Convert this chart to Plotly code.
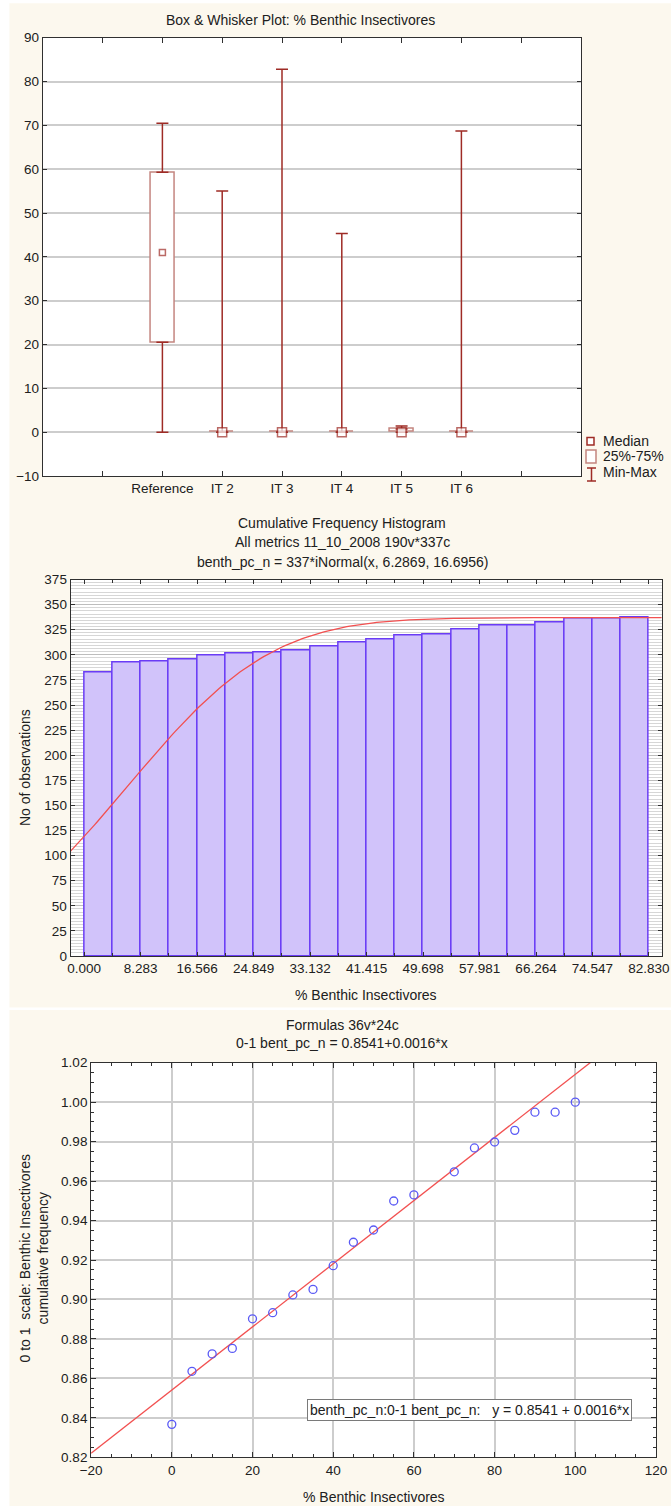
import math
import numpy as np
import plotly.graph_objects as go

W, H = 671, 1506
FONT = "Arial, Liberation Sans, sans-serif"
CREAM = "#FCF8EE"

# ---- Box & whisker data: % Benthic Insectivores by group ----
groups = ["Reference", "IT 2", "IT 3", "IT 4", "IT 5", "IT 6"]
g_min = [0, 0, 0, 0, 0, 0]
g_q1 = [20.5, 0, 0, 0, 0, 0]
g_median = [41.0, 0, 0, 0, 0, 0]
g_q3 = [59.3, 0, 0, 0, 0.7, 0]
g_max = [70.5, 55.0, 82.8, 45.3, 1.4, 68.7]

# ---- Cumulative frequency histogram ----
hist_counts = [282, 292, 293, 295, 299, 301, 302, 304, 308, 312,
               315, 319, 320, 325, 329, 329, 332, 336, 336, 337]
hist_xmax = 82.830
n_total, fit_mu, fit_sigma = 337, 6.2869, 16.6956

# ---- 0-1 scale cumulative frequency vs % Benthic Insectivores ----
pct_x = [0, 5, 10, 15, 20, 25, 30, 35, 40, 45, 50, 55, 60, 70, 75, 80, 85, 90, 95, 100]
cum_freq = [0.8367, 0.8636, 0.8724, 0.8752, 0.8902, 0.8933, 0.9023, 0.9051, 0.9171, 0.9290,
            0.9352, 0.9499, 0.9530, 0.9647, 0.9768, 0.9798, 0.9857, 0.9949, 0.9949, 1.0000]
reg_a, reg_b = 0.8541, 0.0016


def px(x):
    return x / W


def py(y):
    return 1 - y / H


WHISK = "#9E2B25"
BOXLINE = "#C4857F"
BAR_FILL = "#D1C3FA"
BAR_LINE = "#6A3CF5"
FIT_RED = "#F25050"
PT_BLUE = "#5A5AF5"

fig = go.Figure()

# ---------- panel 1: box & whisker ----------
pos = [i + 2 for i in range(len(groups))]
fig.add_trace(go.Bar(
    x=pos, base=g_q1, y=[b - a for a, b in zip(g_q1, g_q3)], width=0.4,
    marker=dict(color="white", line=dict(color=BOXLINE, width=1.5)),
    xaxis="x", yaxis="y", showlegend=False, hoverinfo="skip"))
# upper whiskers (Q3 -> max)
fig.add_trace(go.Scatter(
    x=pos, y=g_q3, mode="markers", marker=dict(size=1, color="rgba(0,0,0,0)"),
    error_y=dict(type="data", symmetric=False,
                 array=[m - q for m, q in zip(g_max, g_q3)],
                 arrayminus=[0] * len(groups), color=WHISK, thickness=1.5, width=6),
    xaxis="x", yaxis="y", showlegend=False, hoverinfo="skip"))
# lower whiskers (min -> Q1)
fig.add_trace(go.Scatter(
    x=pos, y=g_q1, mode="markers", marker=dict(size=1, color="rgba(0,0,0,0)"),
    error_y=dict(type="data", symmetric=False,
                 array=[0] * len(groups),
                 arrayminus=[q - m for m, q in zip(g_min, g_q1)], color=WHISK, thickness=1.5, width=6),
    xaxis="x", yaxis="y", showlegend=False, hoverinfo="skip"))
# medians
fig.add_trace(go.Scatter(
    x=pos, y=g_median, mode="markers",
    marker=dict(symbol="square", size=[6] + [9] * (len(groups) - 1), color="white",
                line=dict(color=WHISK, width=1.5)),
    xaxis="x", yaxis="y", showlegend=False, hoverinfo="skip"))

# ---------- panel 2: cumulative histogram ----------
edges = np.linspace(0, hist_xmax, len(hist_counts) + 1)
bin_w = edges[1] - edges[0]
centers = (edges[:-1] + edges[1:]) / 2
fig.add_trace(go.Bar(
    x=centers, y=hist_counts, width=bin_w,
    marker=dict(color=BAR_FILL, line=dict(color=BAR_LINE, width=1.5)),
    xaxis="x2", yaxis="y2", showlegend=False, hoverinfo="skip"))
xr2 = [-2.0, 84.7]
xs = np.linspace(xr2[0], xr2[1], 200)
ys = [n_total * 0.5 * (1 + math.erf((v - fit_mu) / (fit_sigma * math.sqrt(2)))) for v in xs]
fig.add_trace(go.Scatter(
    x=xs, y=ys, mode="lines", line=dict(color=FIT_RED, width=1.3),
    xaxis="x2", yaxis="y2", showlegend=False, hoverinfo="skip"))

# ---------- panel 3: scatter with fitted line ----------
xr3 = [-20, 120]
fig.add_trace(go.Scatter(
    x=xr3, y=[reg_a + reg_b * v for v in xr3], mode="lines",
    line=dict(color=FIT_RED, width=1.3),
    xaxis="x3", yaxis="y3", showlegend=False, hoverinfo="skip"))
fig.add_trace(go.Scatter(
    x=pct_x, y=cum_freq, mode="markers",
    marker=dict(symbol="circle-open", size=8, color=PT_BLUE, line=dict(width=1.3)),
    xaxis="x3", yaxis="y3", showlegend=False, hoverinfo="skip"))

tickfont = dict(family=FONT, size=13.5, color="#202020")
axis_common = dict(showline=True, linecolor="#303030", linewidth=1, mirror="ticks",
                   ticks="inside", tickcolor="#303030", zeroline=False, tickfont=tickfont,
                   automargin=False)

tick_vals = [i + 1 for i in range(len(groups) + 2)]
tick_text = [""] + groups + [""]

hist_ticks = [edges[i] for i in range(0, len(edges), 2)]

fig.update_layout(
    width=W, height=H, margin=dict(l=0, r=0, t=0, b=0, autoexpand=False),
    paper_bgcolor=CREAM, plot_bgcolor="white", bargap=0,
    font=dict(family=FONT, size=14, color="#202020"),
    xaxis=dict(domain=[px(42.8), px(581)], range=[0, len(groups) + 3],
               tickvals=tick_vals, ticktext=tick_text, ticklen=5, showgrid=False,
               anchor="y", **axis_common),
    yaxis=dict(domain=[py(476), py(37.7)], range=[-10, 90], dtick=10, ticklen=4,
               showgrid=True, gridcolor="#CDCDCD", gridwidth=2, anchor="x", **axis_common),
    xaxis2=dict(domain=[px(70.6), px(661.7)], range=xr2,
                tickvals=hist_ticks, ticktext=[f"{v:.3f}" for v in hist_ticks], ticklen=4,
                minor=dict(tickvals=list(edges), ticks="inside", ticklen=3, tickcolor="#303030"),
                showgrid=False, anchor="y2", **axis_common),
    yaxis2=dict(domain=[py(956), py(579.5)], range=[0, 375], dtick=25, ticklen=4,
                showgrid=True, gridcolor="#BDBDBD", gridwidth=1,
                minor=dict(dtick=25 / 8, showgrid=True, gridcolor="#D6D6D6", gridwidth=1, ticks=""),
                anchor="x2", **axis_common),
    xaxis3=dict(domain=[px(91.1), px(656)], range=xr3, dtick=20, ticklen=5,
                minor=dict(dtick=5, ticks="inside", ticklen=3, tickcolor="#303030"),
                showgrid=True, gridcolor="#CDCDCD", gridwidth=1.5, anchor="y3", **axis_common),
    yaxis3=dict(domain=[py(1457.3), py(1062.7)], range=[0.82, 1.02], dtick=0.02,
                tickformat=".2f", ticklen=5,
                minor=dict(dtick=0.005, ticks="inside", ticklen=3, tickcolor="#303030"),
                showgrid=True, gridcolor="#CDCDCD", gridwidth=1.5, anchor="x3", **axis_common),
)

shapes = [
    # white page edges
    dict(type="rect", xref="paper", yref="paper", x0=0, x1=px(9.4), y0=0, y1=1,
         fillcolor="white", line=dict(width=0), layer="below"),
    dict(type="rect", xref="paper", yref="paper", x0=0, x1=1, y0=py(3.3), y1=1,
         fillcolor="white", line=dict(width=0), layer="below"),
    dict(type="rect", xref="paper", yref="paper", x0=0, x1=1, y0=py(1010), y1=py(1007.5),
         fillcolor="white", line=dict(width=0), layer="below"),
    # legend symbols for the box plot
    dict(type="rect", xref="paper", yref="paper", x0=px(587), x1=px(594), y0=py(445), y1=py(437.5),
         fillcolor="white", line=dict(color=WHISK, width=1.5)),
    dict(type="rect", xref="paper", yref="paper", x0=px(586), x1=px(596), y0=py(463), y1=py(450),
         fillcolor="white", line=dict(color=BOXLINE, width=1.5)),
    dict(type="line", xref="paper", yref="paper", x0=px(591.5), x1=px(591.5), y0=py(481), y1=py(468),
         line=dict(color=WHISK, width=1.5)),
    dict(type="line", xref="paper", yref="paper", x0=px(587), x1=px(596), y0=py(468), y1=py(468),
         line=dict(color=WHISK, width=1.5)),
    dict(type="line", xref="paper", yref="paper", x0=px(587), x1=px(596), y0=py(481), y1=py(481),
         line=dict(color=WHISK, width=1.5)),
]
fig.update_layout(shapes=shapes)


def label(text, x, y, xanchor="center", size=14, angle=0, **kw):
    fig.add_annotation(text=text, x=px(x), y=py(y), xref="paper", yref="paper",
                       xanchor=xanchor, yanchor="middle", showarrow=False, textangle=angle,
                       font=dict(family=FONT, size=size, color="#202020"), **kw)


# box plot title and legend
label("Box &amp; Whisker Plot: % Benthic Insectivores", 300, 20)
label("Median", 601, 441.5, xanchor="left")
label("25%-75%", 601, 456.5, xanchor="left")
label("Min-Max", 601, 472, xanchor="left")

# histogram titles
label("Cumulative Frequency Histogram", 342, 522.7)
label("All metrics 11_10_2008 190v*337c", 342, 542)
label("benth_pc_n = 337*iNormal(x, 6.2869, 16.6956)", 342, 561.7)
label("No of observations", 25, 768, angle=-90)
label("% Benthic Insectivores", 366, 995)

# scatter titles
label("Formulas 36v*24c", 342, 1025)
label("0-1 bent_pc_n = 0.8541+0.0016*x", 342, 1043)
label("0 to 1  scale: Benthic Insectivores<br>cumulative frequency", 33.5, 1258, angle=-90)
label("% Benthic Insectivores", 374, 1497)
label("benth_pc_n:0-1 bent_pc_n:\u00a0\u00a0\u00a0y = 0.8541 + 0.0016*x", 307, 1409.5,
      xanchor="left", bgcolor="white", bordercolor="#7A7A7A", borderwidth=1, borderpad=2)

fig.write_html("out.html")
